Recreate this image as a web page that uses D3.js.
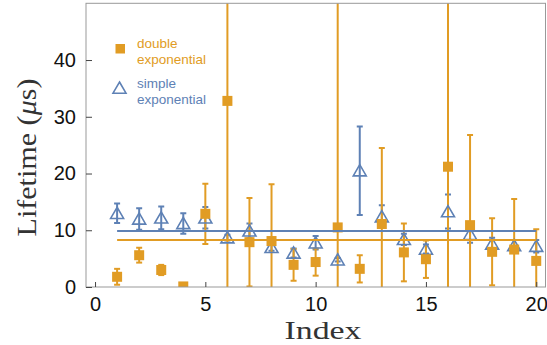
<!DOCTYPE html>
<html><head><meta charset="utf-8">
<script src="https://cdn.jsdelivr.net/npm/d3@7"></script>
<style>body{margin:0;background:#fff}svg{display:block}</style>
</head><body>
<script>
const indices = d3.range(1, 21);
const doubleVals = [1.8, 5.6, 3.0, 0.1, 12.9, 32.8, 7.9, 8.1, 3.9, 4.4, 10.5, 3.2, 11.1, 6.1, 4.9, 21.2, 10.9, 6.2, 6.6, 4.6];
const doubleErrs = [1.4, 1.3, 0.9, 0.3, 5.3, 80, 7.8, 10.0, 2.8, 2.4, 80, 2.4, 13.4, 5.1, 3.3, 80, 15.9, 5.9, 8.9, 5.6];
const simpleVals = [13.0, 12.0, 12.2, 11.2, 12.2, 8.7, 9.9, 7.0, 6.0, 7.8, 4.8, 20.5, 12.4, 8.4, 6.7, 13.3, 9.3, 7.6, 7.3, 7.2];
const simpleErrs = [1.7, 1.9, 2.0, 1.8, 1.9, 0.5, 1.3, 0.6, 0.8, 1.2, 0.3, 7.8, 2.0, 1.0, 0.8, 3.0, 1.5, 1.1, 1.0, 1.1];
const doubleMean = 8.3;
const simpleMean = 9.85;
const xTicks = [0, 5, 10, 15, 20];
const yTicks = [0, 10, 20, 30, 40];

const W = 547, H = 345;
const L = 86, R = 545.5, T = 3.3, B = 287;
const orange = "#E19C24", blue = "#5E81B5";

const svg = d3.select("body").append("svg").attr("width", W).attr("height", H);
const x = d3.scaleLinear().domain([-0.41, 20.42]).range([L, R]);
const y = d3.scaleLinear().domain([0, 50]).range([B, T]);

svg.append("defs").append("clipPath").attr("id", "clip")
  .append("rect").attr("x", L).attr("y", T).attr("width", R - L).attr("height", B - T);

const g = svg.append("g").attr("clip-path", "url(#clip)");

function errorBars(vals, errs, color, cls) {
  const d = indices.map((i, k) => ({i, v: vals[k], e: errs[k]}));
  const gg = g.append("g").attr("class", cls).attr("stroke", color).attr("stroke-width", 2).attr("fill", "none");
  gg.selectAll("line.v").data(d).join("line").attr("class", "v")
    .attr("x1", p => x(p.i)).attr("x2", p => x(p.i))
    .attr("y1", p => y(p.v - p.e)).attr("y2", p => y(p.v + p.e));
  gg.selectAll("line.t").data(d).join("line").attr("class", "t")
    .attr("x1", p => x(p.i) - 3).attr("x2", p => x(p.i) + 3)
    .attr("y1", p => y(p.v + p.e)).attr("y2", p => y(p.v + p.e));
  gg.selectAll("line.b").data(d).join("line").attr("class", "b")
    .attr("x1", p => x(p.i) - 3).attr("x2", p => x(p.i) + 3)
    .attr("y1", p => y(p.v - p.e)).attr("y2", p => y(p.v - p.e));
}

errorBars(simpleVals, simpleErrs, blue, "simple-err");
errorBars(doubleVals, doubleErrs, orange, "double-err");

const triPath = "M0,-6 L6.5,5.2 L-6.5,5.2 Z";
g.append("g").selectAll("path").data(indices.map((i, k) => ({i, v: simpleVals[k]}))).join("path")
  .attr("d", triPath)
  .attr("transform", p => `translate(${x(p.i)},${y(p.v)})`)
  .attr("fill", "none").attr("stroke", blue).attr("stroke-width", 1.6);

g.append("g").selectAll("rect").data(indices.map((i, k) => ({i, v: doubleVals[k]}))).join("rect")
  .attr("x", p => x(p.i) - 5).attr("y", p => y(p.v) - 5)
  .attr("width", 10).attr("height", 10).attr("fill", orange);

// mean lines
g.append("line").attr("x1", x(1)).attr("x2", x(20)).attr("y1", y(doubleMean)).attr("y2", y(doubleMean))
  .attr("stroke", orange).attr("stroke-width", 2);
g.append("line").attr("x1", x(1)).attr("x2", x(20)).attr("y1", y(simpleMean)).attr("y2", y(simpleMean))
  .attr("stroke", blue).attr("stroke-width", 2);

// frame
svg.append("rect").attr("x", L).attr("y", T).attr("width", R - L).attr("height", B - T)
  .attr("fill", "none").attr("stroke", "#999").attr("stroke-width", 1);

// axes
const xAxis = d3.axisBottom(x).tickValues(xTicks).tickSizeInner(-5).tickSizeOuter(0).tickPadding(10);
const gx = svg.append("g").attr("transform", `translate(0,${B})`).call(xAxis);
gx.select(".domain").remove();
gx.selectAll(".tick line").attr("stroke", "#444");
gx.selectAll(".tick text").attr("font-family", "'Liberation Sans', Arial, sans-serif").attr("font-size", 20).attr("fill", "#111");

const yAxis = d3.axisLeft(y).tickValues(yTicks).tickSizeInner(-6).tickSizeOuter(0).tickPadding(10);
const gy = svg.append("g").attr("transform", `translate(${L},0)`).call(yAxis);
gy.select(".domain").remove();
gy.selectAll(".tick line").attr("stroke", "#444");
gy.selectAll(".tick text").attr("font-family", "'Liberation Sans', Arial, sans-serif").attr("font-size", 20).attr("fill", "#111");

// axis labels
svg.append("text").attr("x", 323).attr("y", 339).attr("text-anchor", "middle")
  .attr("font-family", "'Liberation Serif', 'Times New Roman', serif").attr("font-size", 25.5).attr("fill", "#333")
  .attr("textLength", 77).attr("lengthAdjust", "spacingAndGlyphs").text("Index");

const yl = svg.append("text").attr("transform", "translate(36,157.5) rotate(-90)").attr("text-anchor", "middle")
  .attr("font-family", "'Liberation Serif', 'Times New Roman', serif").attr("font-size", 28).attr("fill", "#333")
  .attr("textLength", 158).attr("lengthAdjust", "spacingAndGlyphs");
yl.append("tspan").text("Lifetime (");
yl.append("tspan").attr("font-style", "italic").text("μ");
yl.append("tspan").text("s)");

// legend
const lg = svg.append("g").attr("font-family", "'Liberation Sans', Arial, sans-serif").attr("font-size", 13.5);
lg.append("rect").attr("x", 115.5).attr("y", 44).attr("width", 9.5).attr("height", 9.5).attr("fill", orange);
lg.append("text").attr("x", 137).attr("y", 48).attr("fill", orange).text("double");
lg.append("text").attr("x", 137).attr("y", 64).attr("fill", orange).text("exponential");
lg.append("path").attr("d", triPath).attr("transform", "translate(119.5,88)")
  .attr("fill", "none").attr("stroke", blue).attr("stroke-width", 1.6);
lg.append("text").attr("x", 137).attr("y", 88).attr("fill", blue).text("simple");
lg.append("text").attr("x", 137).attr("y", 104).attr("fill", blue).text("exponential");
</script>
</body></html>
